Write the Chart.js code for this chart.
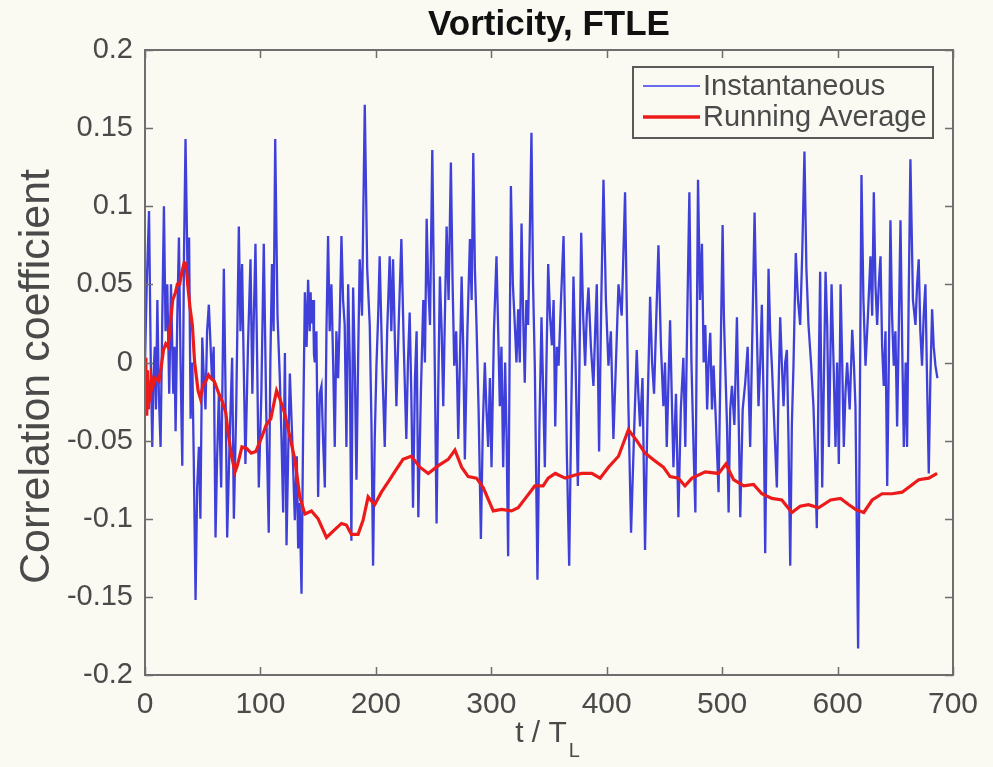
<!DOCTYPE html>
<html>
<head>
<meta charset="utf-8">
<title>Vorticity, FTLE</title>
<script src="https://cdn.jsdelivr.net/npm/chart.js@4.4.0/dist/chart.umd.min.js"></script>
<style>
  html, body { margin: 0; padding: 0; background: #fafaf2; }
  #wrap { width: 993px; height: 767px; }
</style>
</head>
<body>
<div id="wrap"><canvas id="chart" width="993" height="767"></canvas></div>
<script>
// instantaneous correlation (blue)
const tBlue = [
  0,1.5,3.5,5,6.3,7.3,8.5,9.5,10.7,12,
  13.5,15,16.4,17.8,19.3,21,22.5,24.5,25.5,26.5,
  28,29.4,30.8,32.3,33.8,35.1,37,38.2,39.5,41,
  42.2,43.8,45.2,46.7,48,49.6,51,52.4,53.8,55.3,
  58,59.5,61.1,62.5,64,66,68.3,69.8,71.2,73.3,
  75.5,77,79,81.3,82.7,84.1,85.5,87,89.2,91.4,
  93,94.3,95.7,97.2,98.6,100.8,102.9,105,107.2,108.6,
  110,111.4,112.8,114.8,116.8,118.3,119.7,121.2,122.6,124,
  125.5,127.6,129.8,131.5,132.7,134,135.6,137,138.5,140,
  141.3,142.7,143.5,144.2,145.6,146.4,147.1,148.5,150,151.4,
  152.9,154.3,155.8,157.2,158.6,160,161.5,163,164.4,165.8,
  167.3,168.8,170.2,171.6,173,174.5,176,177.4,178.8,180.3,
  181.7,183.2,184.6,186,188,189.2,190.4,192.5,194.7,196.2,
  197.6,199,200.5,202,203.3,205.5,207.7,209.8,212,213.4,
  214.9,216.3,217.8,220,222.1,224.2,226.4,227.8,229.3,230.7,
  232.2,233.9,235.3,236.8,239,241.1,242.5,244,245.4,246.9,
  248.9,250.7,252.6,254,255.5,257,258.4,259.8,261.3,263,
  265,266.5,267.9,269.6,271.4,272.8,274.3,275.7,277.1,279.3,
  281.5,283,284.4,285.8,287.2,289,291,292.7,294.4,295.8,
  297.3,298.8,300.2,302.3,304.5,306,307.4,308.8,310.3,312,
  313.3,314.6,317,318.7,320.4,321.8,323.3,324.7,326.2,327.6,
  329,330.4,331.9,333.3,334.8,336.2,337.7,340,341.7,343.5,
  345,346.4,347.8,349.3,350.9,352.5,354,355.4,356.8,358.3,
  360.4,362.6,364,365.5,367.5,369.3,371.2,373,375,376.4,
  377.9,379.6,381.3,382.7,384.2,386.3,388.5,390,391.4,393.4,
  395.3,397.2,399.3,401.5,403.6,405.8,408,410.2,413,415.9,
  417.3,418.8,421.1,423.5,426,427.4,428.9,431,433.2,435.4,
  437.6,439.3,441,443,444.8,447,449.1,450.5,452,454.9,
  456.3,457.8,460,462.1,464.2,466.4,468.1,469.8,471.6,473.4,
  475.3,476.8,479.1,480.8,482.5,484,485.4,487,488.3,489.7,
  491.2,492.6,494.7,496.9,498.6,500.4,501.5,502.7,504.2,505.6,
  507,508.5,510.6,512.8,514.2,515.7,517.8,520,522.1,524.3,
  526.2,528.1,529.8,531.5,533,534.4,535.8,537.3,538.7,540.2,
  541.6,543.1,545.2,547.4,548.8,550.3,551.7,553.2,554.6,556.1,
  557.5,559,560.4,561.8,563.8,565.7,567.6,569.4,571.3,573,
  574.8,577,579.1,580.5,582,583.4,584.9,586.7,589.6,591,
  592.5,594.8,596.5,598.2,599.6,601.1,602.6,604,605.4,606.8,
  608.3,610.5,612.7,614.1,615.5,617.8,620.7,622.4,624.2,626.3,
  628.5,630,631.4,632.8,634.3,635.7,637.2,638.6,640,641.5,
  643,644.4,645.8,647.2,648.7,650.1,651.6,653,654.5,656,
  657.4,659,660.2,661.6,663.1,665.3,667.5,668.9,670.3,671.7,
  673.2,674.6,676.1,677.5,679,680.4,681.9,683.3,684.8,686.5
];
const blueVals = [
  0,0.05,0.097,0,-0.054,-0.01,0.01,-0.03,0.04,-0.02,
  -0.054,0.03,0.1,0.02,0.05,-0.02,0.05,-0.02,0.01,-0.044,
  0.03,0.08,0,-0.066,0.07,0.143,0.05,0.08,-0.036,0,
  -0.06,-0.152,-0.08,-0.054,-0.1,0.016,-0.01,-0.03,0.02,0.037,
  -0.01,0.01,-0.112,-0.06,-0.02,-0.08,0.06,-0.02,-0.112,-0.05,
  0.003,-0.1,-0.03,0.087,0.02,0.063,0,-0.065,0.01,0.066,
  -0.02,0.03,0.076,0,-0.08,-0.02,0.076,-0.03,-0.109,0,
  0.063,0.02,0.143,0.03,-0.01,-0.05,-0.096,0.006,-0.117,-0.06,
  -0.007,-0.05,-0.101,-0.06,-0.119,-0.09,-0.148,-0.044,0.045,0.01,
  0.053,0.02,0.045,0.025,0.04,0.005,0,0.02,-0.086,-0.02,
  -0.015,-0.05,-0.08,0.02,0.081,0.02,0.05,0,-0.054,0.02,
  -0.01,0.03,0.081,0.04,0.024,-0.054,0.05,0,-0.114,0.048,
  0,-0.075,0,0.066,0.03,0.1,0.165,0.06,0.024,-0.04,
  -0.13,-0.05,-0.002,0.03,0.068,0,-0.054,0.02,0.068,0.02,
  0.066,0.02,-0.028,0.03,0.079,0.01,-0.049,0,0.032,-0.02,
  -0.093,-0.01,0.02,-0.099,-0.02,0.04,0,0.092,0.05,0.024,
  0.136,0.02,-0.103,-0.02,0.055,0.02,-0.028,0.03,0.087,0.04,
  0.128,0.05,-0.002,0.02,-0.049,0,0.055,0.01,-0.062,0.02,
  0.079,0.04,0.134,0.06,0.024,-0.03,-0.113,-0.04,0,-0.03,
  -0.054,-0.01,-0.067,0.02,0.068,0.02,-0.028,0.01,-0.067,0,
  -0.05,-0.124,0.113,0.05,0.024,0,0.034,0,0.089,0.03,
  -0.013,0.04,0.024,0.08,0.147,0.05,-0.002,-0.139,-0.04,0.029,
  -0.02,-0.067,0,0.063,0.03,0.011,0.04,-0.041,0.01,-0.002,
  0.04,0.081,0.02,-0.06,-0.13,-0.03,0.055,0,-0.079,0,
  0.083,0.03,-0.002,0.03,0.048,0.01,-0.015,0.02,0.05,-0.057,
  0.04,0.117,0.04,-0.002,0.02,-0.049,0,0.05,0.03,0.109,
  0.04,-0.028,-0.109,-0.05,0.008,-0.02,-0.041,-0.01,-0.12,-0.03,
  0.042,0,-0.02,0.03,0.075,0.01,-0.028,0,-0.054,0.027,
  -0.02,-0.067,-0.02,-0.099,-0.03,0.003,-0.054,0.03,0.109,0,
  -0.057,-0.096,0.117,0.04,0.076,0,0.024,-0.03,0,0.019,
  -0.03,-0.002,-0.04,-0.083,0,0.088,0.03,-0.002,-0.04,-0.096,
  -0.03,-0.015,-0.04,0.029,-0.03,-0.099,-0.03,-0.013,0.01,-0.054,
  0.02,0.096,0.03,-0.028,0,0.037,-0.02,-0.122,-0.03,0.06,
  0.02,-0.002,-0.04,-0.08,-0.02,0.029,0,-0.028,0,0.008,
  -0.05,-0.13,-0.04,-0.002,0.07,0.04,0.024,0.07,0.135,0.06,
  0.024,0,-0.028,-0.06,-0.106,-0.02,0.058,-0.08,0.058,0.024,
  -0.054,0.05,0,-0.054,0,-0.065,0.05,0,-0.054,-0.02,
  0,-0.03,0.021,0,-0.028,-0.183,0.12,0.04,-0.002,0.03,
  0.068,0.03,0.109,0.05,0.024,0.05,0.068,0.01,-0.015,0.02,
  -0.079,0,0.091,0.03,-0.002,0.02,-0.041,0.02,0.091,0.01,
  -0.054,0,-0.054,0.04,0.13,0.04,0.024,0.05,0.066,0.02,
  -0.002,0.03,0.05,-0.01,-0.071,-0.01,0.034,0.01,-0.002,-0.01
];

// running average (red)
const tRed = [
  0,0.8,1.5,2.2,3,3.8,4.6,5.5,7,9,
  12,14,16,18,20,22,24,26.5,28,30,
  32,34,35.5,37,39,41,43,46,48,50,
  52,55,57,60,64,67,70,72,75,78,
  80,84,88,92,96,101,105,109,112,114,
  116.8,121.2,129.8,134.1,138.5,144.2,150,157.2,164.4,170.2,
  174.5,178.8,184.6,188.9,193.3,199,204.8,212,216.3,223.5,
  230.7,238.2,245.4,254.1,262.7,268.5,274.3,280,287.2,293,
  301.7,308.9,317.5,323.3,330.5,337.7,344.9,349.3,355.4,364,
  372.7,378.4,387.1,394.3,401.5,410.2,418.8,426,433.2,441.9,
  449.1,454.9,462.1,467.8,473.9,485.4,496.9,503.3,509.9,518.6,
  527.2,534.4,543.1,551.7,560.4,567.6,574.8,583.5,594,602.6,
  609.8,615.5,622.7,630,638.6,647.3,655.9,663.1,670.3,679,
  686.2
];
const redVals = [
  0.003,-0.02,-0.034,-0.005,-0.03,-0.012,-0.025,-0.01,-0.015,-0.01,
  -0.012,-0.003,0.008,0.012,0.01,0.025,0.04,0.045,0.05,0.05,
  0.058,0.064,0.063,0.05,0.035,0.024,0,-0.018,-0.023,-0.015,
  -0.013,-0.008,-0.01,-0.012,-0.02,-0.025,-0.032,-0.045,-0.06,-0.07,
  -0.066,-0.054,-0.055,-0.058,-0.057,-0.048,-0.04,-0.036,-0.025,-0.018,
  -0.023,-0.033,-0.062,-0.086,-0.097,-0.095,-0.1,-0.112,-0.107,-0.103,
  -0.104,-0.11,-0.11,-0.101,-0.086,-0.091,-0.083,-0.075,-0.07,-0.062,
  -0.06,-0.067,-0.071,-0.066,-0.062,-0.056,-0.067,-0.073,-0.074,-0.08,
  -0.095,-0.094,-0.095,-0.093,-0.086,-0.079,-0.079,-0.074,-0.071,-0.074,
  -0.072,-0.071,-0.071,-0.074,-0.067,-0.06,-0.043,-0.05,-0.058,-0.063,
  -0.067,-0.073,-0.074,-0.079,-0.074,-0.07,-0.071,-0.065,-0.075,-0.079,
  -0.078,-0.084,-0.087,-0.088,-0.096,-0.092,-0.091,-0.093,-0.088,-0.087,
  -0.091,-0.094,-0.096,-0.088,-0.084,-0.084,-0.083,-0.079,-0.075,-0.074,
  -0.071
];

const xTickVals = [0, 100, 200, 300, 400, 500, 600, 700];
const yTickVals = [-0.2, -0.15, -0.1, -0.05, 0, 0.05, 0.1, 0.15, 0.2];
const seriesNames = ['Instantaneous', 'Running Average'];

const bgColor = '#fafaf2';
const textColor = '#4a4a4a';
const fontFam = "'Liberation Sans', Arial, Helvetica, sans-serif";

// frame, inward ticks, titles and legend, drawn MATLAB style
const matlabBox = {
    id: 'matlabBox',
    beforeDraw(chart) {
        const { ctx, width, height } = chart;
        ctx.save();
        ctx.fillStyle = bgColor;
        ctx.fillRect(0, 0, width, height);
        ctx.restore();
    },
    afterDraw(chart) {
        const { ctx, chartArea: { left, top, right, bottom }, scales: { x, y } } = chart;
        ctx.save();
        ctx.strokeStyle = '#6e6e6e';
        ctx.lineWidth = 2;
        ctx.strokeRect(left, top, right - left, bottom - top);

        // tick marks pointing inwards on all four sides
        ctx.lineWidth = 1.5;
        ctx.beginPath();
        xTickVals.forEach(v => {
            const px = Math.round(x.getPixelForValue(v)) + 0.5;
            ctx.moveTo(px, bottom); ctx.lineTo(px, bottom - 8);
            ctx.moveTo(px, top); ctx.lineTo(px, top + 8);
        });
        yTickVals.forEach(v => {
            const py = Math.round(y.getPixelForValue(v)) + 0.5;
            ctx.moveTo(left, py); ctx.lineTo(left + 8, py);
            ctx.moveTo(right, py); ctx.lineTo(right - 8, py);
        });
        ctx.stroke();

        // title
        ctx.fillStyle = '#111';
        ctx.font = 'bold 35px ' + fontFam;
        ctx.textAlign = 'center';
        ctx.textBaseline = 'middle';
        ctx.fillText('Vorticity, FTLE', (left + right) / 2, 25);

        // x axis title with subscript
        ctx.fillStyle = textColor;
        ctx.font = '30px ' + fontFam;
        const main = 't / T';
        const w = ctx.measureText(main).width;
        const cx = (left + right) / 2;
        ctx.textAlign = 'left';
        ctx.fillText(main, cx - w / 2 - 8, 734);
        ctx.font = '20px ' + fontFam;
        ctx.fillText('L', cx + w / 2 - 6, 751);

        // y axis title
        ctx.save();
        ctx.translate(37, (top + bottom) / 2 + 14);
        ctx.rotate(-Math.PI / 2);
        ctx.font = '43px ' + fontFam;
        ctx.textAlign = 'center';
        ctx.fillText('Correlation coefficient', 0, 0);
        ctx.restore();

        // legend box
        const bx = 633, by = 67, bw = 300, bh = 71;
        ctx.fillStyle = bgColor;
        ctx.fillRect(bx, by, bw, bh);
        ctx.strokeStyle = '#5a5a5a';
        ctx.lineWidth = 2;
        ctx.strokeRect(bx, by, bw, bh);
        chart.data.datasets.forEach((ds, i) => {
            const ly = by + 19 + i * 31;
            ctx.strokeStyle = i === 0 ? '#6a6af0' : ds.borderColor;
            ctx.lineWidth = i === 0 ? 1.8 : 3.5;
            ctx.beginPath();
            ctx.moveTo(bx + 10, ly);
            ctx.lineTo(bx + 67, ly);
            ctx.stroke();
            ctx.fillStyle = textColor;
            ctx.font = '29px ' + fontFam;
            ctx.textAlign = 'left';
            ctx.textBaseline = 'middle';
            ctx.fillText(ds.label, bx + 70, ly + 1);
        });
        ctx.restore();
    }
};

const config = {
    type: 'line',
    data: {
        datasets: [
            {
                label: seriesNames[0],
                data: tBlue.map((t, i) => ({ x: t, y: blueVals[i] })),
                borderColor: 'rgba(22,22,212,0.82)',
                borderWidth: 2.3,
                pointRadius: 0,
                tension: 0,
                order: 2
            },
            {
                label: seriesNames[1],
                data: tRed.map((t, i) => ({ x: t, y: redVals[i] })),
                borderColor: '#ec1b1b',
                borderWidth: 3.2,
                pointRadius: 0,
                tension: 0,
                order: 1
            }
        ]
    },
    options: {
        responsive: false,
        animation: false,
        layout: { padding: { top: 50, right: 40, left: 0, bottom: 0 } },
        plugins: {
            legend: { display: false },
            tooltip: { enabled: false }
        },
        scales: {
            x: {
                type: 'linear',
                min: 0,
                max: 700,
                grid: { display: false },
                border: { display: false },
                afterBuildTicks: s => { s.ticks = xTickVals.map(v => ({ value: v })); },
                afterFit: s => { s.height = 92; },
                ticks: {
                    padding: 4,
                    color: textColor,
                    font: { family: fontFam, size: 30 },
                    maxRotation: 0
                }
            },
            y: {
                min: -0.2,
                max: 0.2,
                grid: { display: false },
                border: { display: false },
                afterBuildTicks: s => { s.ticks = yTickVals.map(v => ({ value: v })); },
                afterFit: s => { s.width = 145; },
                ticks: {
                    padding: 4,
                    color: textColor,
                    font: { family: fontFam, size: 29 },
                    callback: v => String(+v.toFixed(2))
                }
            }
        }
    },
    plugins: [matlabBox]
};

new Chart(document.getElementById('chart').getContext('2d'), config);
</script>
</body>
</html>
